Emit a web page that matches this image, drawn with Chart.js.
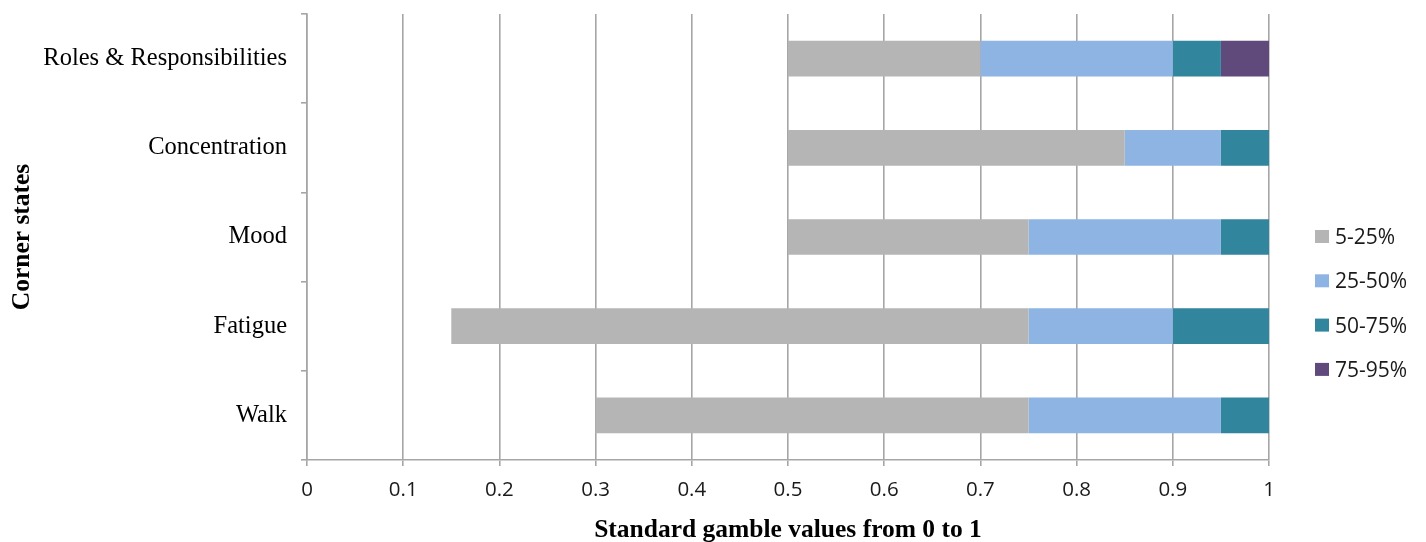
<!DOCTYPE html>
<html>
<head>
<meta charset="utf-8">
<script src="https://cdn.jsdelivr.net/npm/chart.js@4/dist/chart.umd.min.js"></script>
<style>
  html, body { margin: 0; padding: 0; background: #ffffff; }
  #wrap { width: 1426px; height: 542px; position: relative; }
</style>
</head>
<body>
<div id="wrap"><canvas id="c" width="1426" height="542"></canvas></div>
<script>
// Corner states, top to bottom
const categories = ['Roles & Responsibilities', 'Concentration', 'Mood', 'Fatigue', 'Walk'];

// Percentile boundaries of standard gamble values per corner state
const p5  = [0.50, 0.50, 0.50, 0.15, 0.30];
const p25 = [0.70, 0.85, 0.75, 0.75, 0.75];
const p50 = [0.90, 0.95, 0.95, 0.90, 0.95];
const p75 = [0.95, 1.00, 1.00, 1.00, 1.00];
const p95 = [1.00, 1.00, 1.00, 1.00, 1.00];

const seriesLabels = ['5-25%', '25-50%', '50-75%', '75-95%'];
const seriesColors = ['#b5b5b5', '#8db4e2', '#31859c', '#604a7b'];

const xTicks = [0, 0.1, 0.2, 0.3, 0.4, 0.5, 0.6, 0.7, 0.8, 0.9, 1];

const bounds = [p5, p25, p50, p75, p95];
const datasets = seriesLabels.map((label, s) => ({
  label: label,
  data: categories.map((_, i) => [bounds[s][i], bounds[s + 1][i]]),
  backgroundColor: seriesColors[s],
  borderWidth: 0,
  borderSkipped: false,
  grouped: false,
  barPercentage: 0.4,
  categoryPercentage: 1.0
}));

// Legend drawn as a vertical column to the right of the plot
const sideLegend = {
  id: 'sideLegend',
  afterDraw(chart) {
    const ctx = chart.ctx;
    ctx.save();
    ctx.font = '21px "Open Sans"';
    ctx.textBaseline = 'middle';
    ctx.textAlign = 'left';
    chart.data.datasets.forEach((ds, i) => {
      const y = 237 + i * 44.3;
      ctx.fillStyle = ds.backgroundColor;
      ctx.fillRect(1315, y - 7, 14, 13);
      ctx.fillStyle = '#1a1a1a';
      ctx.fillText(ds.label, 1335, y + 1);
    });
    ctx.restore();
  }
};

new Chart(document.getElementById('c'), {
  type: 'bar',
  data: { labels: categories, datasets: datasets },
  options: {
    indexAxis: 'y',
    responsive: false,
    animation: false,
    layout: { padding: { left: 0, top: 14, right: 157, bottom: 0 } },
    plugins: {
      legend: { display: false },
      tooltip: { enabled: false }
    },
    scales: {
      x: {
        type: 'linear',
        min: 0,
        max: 1,
        afterBuildTicks(scale) { scale.ticks = xTicks.map(v => ({ value: v })); },
        afterFit(scale) { scale.height = 82; },
        grid: {
          color: '#a6a6a6',
          lineWidth: 1.6,
          drawTicks: true,
          tickLength: 6
        },
        border: { color: '#a6a6a6', width: 1.6 },
        ticks: {
          color: '#1a1a1a',
          font: { family: '"Open Sans"', size: 20.5 },
          padding: 12,
          maxRotation: 0,
          callback: v => String(v)
        },
        title: {
          display: true,
          text: 'Standard gamble values from 0 to 1',
          color: '#000000',
          font: { family: '"Liberation Serif"', size: 25.5, weight: 'bold', lineHeight: 0.9 },
          padding: { top: 0, bottom: 0 }
        }
      },
      y: {
        type: 'category',
        offset: true,
        afterFit(scale) {
          scale.width = 307;
          scale.paddingTop = 0;
          scale.paddingBottom = 0;
        },
        grid: {
          display: true,
          offset: true,
          drawOnChartArea: false,
          drawTicks: true,
          tickLength: 6,
          color: '#a6a6a6',
          lineWidth: 1.6
        },
        border: { color: '#a6a6a6', width: 1.6 },
        ticks: {
          color: '#000000',
          font: { family: '"Liberation Serif"', size: 24.5 },
          padding: 14
        },
        title: {
          display: true,
          text: 'Corner states',
          color: '#000000',
          font: { family: '"Liberation Serif"', size: 25.5, weight: 'bold', lineHeight: 1.1 },
          padding: { top: 8, bottom: 0 }
        }
      }
    }
  },
  plugins: [sideLegend]
});
</script>
</body>
</html>
